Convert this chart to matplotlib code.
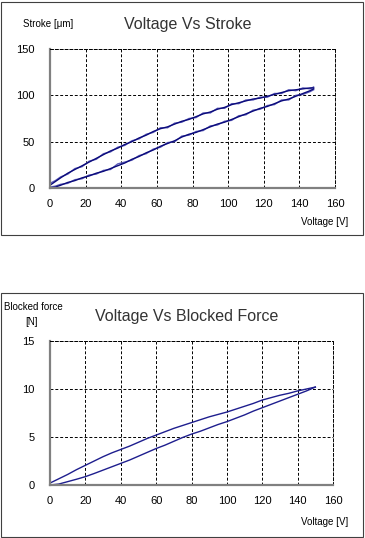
import matplotlib
matplotlib.use("Agg")
import matplotlib.pyplot as plt
from matplotlib.patches import Rectangle

plt.rcParams['font.family'] = ['Liberation Sans', 'DejaVu Sans']

W, H = 365, 538

# Voltage vs stroke, two cycles (rising branch / falling branch)
volt = [0, 3, 6, 10, 14, 18, 22, 26, 30, 34, 38, 42, 46, 50, 54, 58, 62, 66, 70,
        74, 78, 82, 86, 90, 94, 98, 102, 106, 110, 114, 118, 122, 126, 130, 134,
        138, 142, 146, 148]
stroke_rise_1 = [0, 1, 3, 6, 8, 11, 13, 16, 18, 21, 24, 27, 31, 34, 38, 41, 45, 48, 51,
                 55, 58, 60, 63, 66, 69, 71, 74, 77, 80, 83, 86, 88, 91, 94, 96,
                 99, 102, 105, 107]
stroke_fall_1 = [3, 7, 11, 16, 20, 24, 28, 32, 36, 40, 43, 47, 50, 54, 57, 61, 64, 66, 69,
                 72, 74, 77, 80, 82, 85, 87, 90, 92, 94, 96, 97, 99, 101, 103, 105,
                 106, 107, 108, 108]
stroke_rise_2 = [1, 2, 4, 5, 9, 10, 14, 15, 19, 20, 26, 28, 30, 35, 37, 42, 44, 49, 50,
                 56, 57, 61, 62, 67, 68, 72, 73, 78, 79, 84, 85, 89, 90, 95, 95,
                 100, 101, 104, 106]
stroke_fall_2 = [5, 8, 12, 15, 21, 23, 29, 31, 37, 39, 44, 46, 51, 53, 58, 60, 65, 65, 70,
                 71, 75, 76, 81, 81, 86, 86, 91, 91, 95, 95, 98, 98, 102, 102, 106,
                 105, 108, 107, 109]

# Voltage vs blocked force
volt_f = [0, 5, 10, 15, 20, 25, 30, 35, 40, 45, 50, 55, 60, 65, 70, 75, 80, 85, 90,
          95, 100, 105, 110, 115, 120, 125, 130, 135, 140, 145, 150]
force_rise = [0, 0.1, 0.35, 0.6, 0.87, 1.2, 1.55, 1.9, 2.25, 2.6, 3.0, 3.4, 3.8, 4.15,
              4.55, 4.95, 5.3, 5.6, 5.95, 6.3, 6.6, 6.95, 7.3, 7.7, 8.05, 8.4, 8.75,
              9.1, 9.45, 9.8, 10.2]
force_fall = [0.2, 0.65, 1.1, 1.6, 2.05, 2.5, 2.95, 3.35, 3.7, 4.05, 4.45, 4.85, 5.2,
              5.55, 5.9, 6.2, 6.5, 6.8, 7.1, 7.35, 7.6, 7.9, 8.2, 8.5, 8.85, 9.1, 9.35,
              9.55, 9.8, 10.0, 10.2]

x_ticks = [0, 20, 40, 60, 80, 100, 120, 140, 160]

dark = '#0a0a7a'
light = '#5a5ab8'
mid = '#1e1e8e'


def fx(px):
    return px / W


def fy(py):
    return 1 - py / H


def style_axes(ax, ymax, ystep):
    ax.set_xlim(0, 160)
    ax.set_ylim(0, ymax)
    ax.set_xticks(x_ticks)
    ax.set_yticks(range(0, ymax + 1, ystep))
    ax.tick_params(length=0, labelsize=8, pad=8)
    ax.tick_params(axis='y', pad=11)
    ax.grid(True, color='black', linestyle=(0, (3, 2)), linewidth=0.7)
    for s in ['top', 'right']:
        ax.spines[s].set_linestyle((0, (3, 2)))
        ax.spines[s].set_linewidth(0.7)
    for s in ['left', 'bottom']:
        ax.spines[s].set_color('#808080')
        ax.spines[s].set_linewidth(1.6)
    ax.set_facecolor('white')


fig = plt.figure(figsize=(W / 100, H / 100), dpi=100)

# panel frames
fig.add_artist(Rectangle((fx(0.5), fy(235)), fx(363) - fx(0.5), fy(2) - fy(235),
                         transform=fig.transFigure, fill=False, edgecolor='#404040', linewidth=0.8))
fig.add_artist(Rectangle((fx(0.5), fy(537)), fx(363) - fx(0.5), fy(293) - fy(537),
                         transform=fig.transFigure, fill=False, edgecolor='#404040', linewidth=0.8))

# top chart
ax1 = fig.add_axes([fx(50), fy(188), fx(335) - fx(50), fy(49) - fy(188)])
style_axes(ax1, 150, 50)
ax1.plot(volt, stroke_rise_2, color=light, linewidth=1)
ax1.plot(volt[::-1], stroke_fall_2[::-1], color=light, linewidth=1)
ax1.plot(volt, stroke_rise_1, color=dark, linewidth=1)
ax1.plot(volt[::-1], stroke_fall_1[::-1], color=dark, linewidth=1)
fig.text(fx(188), fy(25), 'Voltage Vs Stroke', ha='center', va='center', fontsize=11.5, color='#333333')
fig.text(fx(23), fy(24), 'Stroke [\u03bcm]', ha='left', va='center', fontsize=7)
fig.text(fx(348), fy(222), 'Voltage [V]', ha='right', va='center', fontsize=7)

# bottom chart
ax2 = fig.add_axes([fx(50), fy(485), fx(333) - fx(50), fy(341) - fy(485)])
style_axes(ax2, 15, 5)
ax2.plot(volt_f, force_rise, color=mid, linewidth=1)
ax2.plot(volt_f[::-1], force_fall[::-1], color=mid, linewidth=1)
fig.text(fx(187), fy(317), 'Voltage Vs Blocked Force', ha='center', va='center', fontsize=11.5, color='#333333')
fig.text(fx(4), fy(307), 'Blocked force', ha='left', va='center', fontsize=7)
fig.text(fx(32), fy(322), '[N]', ha='center', va='center', fontsize=7)
fig.text(fx(348), fy(522), 'Voltage [V]', ha='right', va='center', fontsize=7)

fig.savefig('out.png', dpi=100, facecolor='white')
